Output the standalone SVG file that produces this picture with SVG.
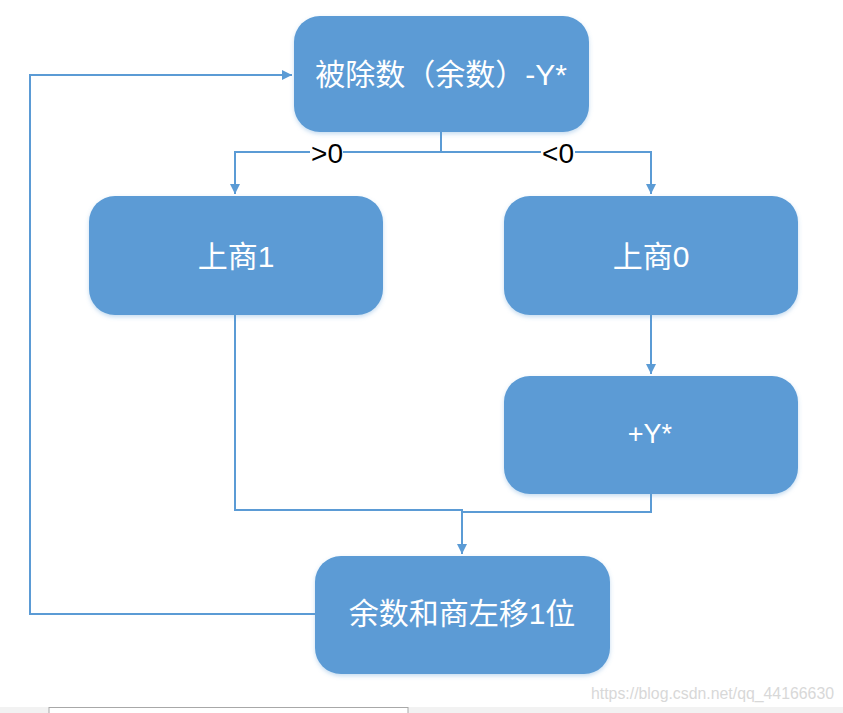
<svg xmlns="http://www.w3.org/2000/svg" width="843" height="713" viewBox="0 0 843 713">
<style>
.node{fill:#5B9BD5;filter:url(#sh)}
.nt{fill:#fff;font-family:"Liberation Sans","Noto Sans CJK SC",sans-serif;font-size:30px;text-anchor:middle;dominant-baseline:central}
.ln{fill:none;stroke:#5B9BD5;stroke-width:2}
.lb{font-family:"Liberation Sans",sans-serif;font-size:28px;fill:#000;text-anchor:middle}
</style>
<defs>
<marker id="ah" markerWidth="12" markerHeight="12" refX="10" refY="5" orient="auto" markerUnits="userSpaceOnUse">
<path d="M0,0 L10,5 L0,10 Z" fill="#5B9BD5"/>
</marker>
<filter id="sh" x="-10%" y="-10%" width="120%" height="130%">
<feDropShadow dx="0" dy="2" stdDeviation="2" flood-color="#5B9BD5" flood-opacity="0.35"/>
</filter>
</defs>
<rect width="843" height="713" fill="#fff"/>
<g id="connectors">
<path class="ln" d="M441,132 V152 H235 V194" marker-end="url(#ah)"/>
<path class="ln" d="M441,152 H651 V194" marker-end="url(#ah)"/>
<path class="ln" d="M651,315 V374" marker-end="url(#ah)"/>
<path class="ln" d="M235,315 V510 H462 V554" marker-end="url(#ah)"/>
<path class="ln" d="M651,494 V512 H462"/>
<path class="ln" d="M315,614 H30 V75 H292" marker-end="url(#ah)"/>
<rect x="310" y="133" width="33" height="31" fill="#fff"/>
<rect x="541" y="133" width="34" height="31" fill="#fff"/>
<text class="lb" x="327" y="163">&gt;0</text>
<text class="lb" x="558" y="163">&lt;0</text>
</g>
<g id="n1"><rect class="node" x="294" y="16" width="295" height="116" rx="26"/><text class="nt" x="441" y="74">被除数（余数）-Y*</text></g>
<g id="n2"><rect class="node" x="89" y="196" width="294" height="119" rx="26"/><text class="nt" x="236" y="256">上商1</text></g>
<g id="n3"><rect class="node" x="504" y="196" width="294" height="119" rx="26"/><text class="nt" x="651" y="256">上商0</text></g>
<g id="n4"><rect class="node" x="504" y="376" width="294" height="118" rx="26"/><text class="nt" x="650" y="434" style="font-size:27px">+Y*</text></g>
<g id="n5"><rect class="node" x="315" y="556" width="295" height="118" rx="26"/><text class="nt" x="462" y="613">余数和商左移1位</text></g>
<text x="834" y="699" font-family="Liberation Sans Narrow,Liberation Sans,sans-serif" font-size="16" fill="#d8d8d8" text-anchor="end" textLength="243" lengthAdjust="spacingAndGlyphs">https://blog.csdn.net/qq_44166630</text>
<rect x="0" y="707" width="843" height="6" fill="#f2f2f2"/>
<rect x="49" y="707.5" width="359" height="8" fill="#fff" stroke="#a8a8a8" stroke-width="1"/>
</svg>
